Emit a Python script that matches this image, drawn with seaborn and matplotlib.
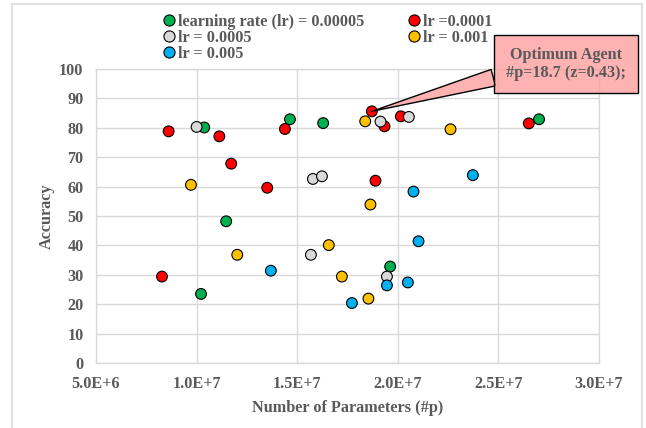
import matplotlib
matplotlib.use('Agg')
import matplotlib.pyplot as plt
from matplotlib.lines import Line2D
from matplotlib.patches import Rectangle
from matplotlib.ticker import FuncFormatter, MultipleLocator
import pandas as pd
import seaborn as sns

# values
green_p = [1.038e7, 1.147e7, 1.464e7, 1.629e7, 2.702e7, 1.022e7, 1.962e7]
green_acc = [80.1, 48.2, 82.9, 81.6, 82.9, 23.5, 32.8]

red_p = [8.61e6, 1.113e7, 1.172e7, 1.351e7, 1.439e7, 1.871e7, 1.934e7, 2.015e7, 2.651e7, 1.889e7, 8.28e6]
red_acc = [78.8, 77.1, 67.8, 59.6, 79.6, 85.6, 80.5, 83.9, 81.5, 62.0, 29.4]

grey_p = [1.0e7, 1.578e7, 1.623e7, 1.568e7, 1.914e7, 2.055e7, 1.946e7]
grey_acc = [80.3, 62.6, 63.5, 36.8, 82.1, 83.7, 29.4]

yellow_p = [9.72e6, 1.657e7, 1.202e7, 1.838e7, 2.262e7, 1.864e7, 1.722e7, 1.854e7]
yellow_acc = [60.6, 40.1, 36.8, 82.2, 79.5, 53.9, 29.4, 21.9]

blue_p = [2.373e7, 2.078e7, 2.103e7, 1.369e7, 1.772e7, 1.946e7, 2.05e7]
blue_acc = [63.9, 58.3, 41.4, 31.4, 20.4, 26.4, 27.4]

labels = ['learning rate (lr) = 0.00005', 'lr =0.0001', 'lr = 0.0005', 'lr = 0.001', 'lr = 0.005']
colors = ['#00b050', '#ff0000', '#d9d9d9', '#ffc000', '#00b0f0']

opt_p, opt_acc = 1.871e7, 85.6
opt_text = 'Optimum Agent\n#p=18.7 (z=0.43);'

series = [(green_p, green_acc), (red_p, red_acc), (grey_p, grey_acc),
          (yellow_p, yellow_acc), (blue_p, blue_acc)]
rows = []
for lab, (ps, accs) in zip(labels, series):
    for p, a in zip(ps, accs):
        rows.append({'params': p, 'acc': a, 'lr': lab})
df = pd.DataFrame(rows)

sns.set_style('white')
plt.rcParams['font.family'] = ['Liberation Serif', 'DejaVu Serif']
plt.rcParams['font.weight'] = 'bold'
txt = '#595959'
gridc = '#d9d9d9'
fs = 11.7

fig = plt.figure(figsize=(6.46, 4.28), dpi=100)
# chart area border (Excel style)
fig.patches.append(Rectangle((12 / 646, -0.02), 630 / 646, 1.02 - 4 / 428, transform=fig.transFigure,
                             fill=False, ec='#e0e0e0', lw=1.5))
ax = fig.add_axes([96 / 646, 1 - 363 / 428, 503 / 646, 294 / 428])

sns.scatterplot(data=df, x='params', y='acc', hue='lr', palette=dict(zip(labels, colors)),
                s=60, edgecolor='black', linewidth=0.8, legend=False, ax=ax, zorder=3)

ax.set_xlim(5e6, 3e7)
ax.set_ylim(0, 100)
ax.xaxis.set_major_locator(MultipleLocator(5e6))
ax.yaxis.set_major_locator(MultipleLocator(10))


def excel_sci(v, pos):
    s = f'{v:.1E}'
    m, e = s.split('E')
    return f'{m}E+{int(e)}'


ax.xaxis.set_major_formatter(FuncFormatter(excel_sci))
ax.grid(True, color=gridc, lw=1)
ax.set_axisbelow(True)
for sp in ax.spines.values():
    sp.set_color(gridc)
    sp.set_linewidth(1)
ax.tick_params(length=0, labelsize=fs, labelcolor=txt)
ax.tick_params(axis='x', pad=9)
ax.tick_params(axis='y', pad=9)
for t in ax.get_xticklabels() + ax.get_yticklabels():
    t.set_fontweight('bold')

ax.set_xlabel('Number of Parameters (#p)', fontsize=fs, color=txt, fontweight='bold')
ax.set_ylabel('Accuracy', fontsize=fs, color=txt, fontweight='bold')
ax.xaxis.set_label_coords(0.5, -0.125)
ax.yaxis.set_label_coords(-0.082, 0.5)

# legend in Excel row order (2 columns)
handles = [Line2D([], [], marker='o', ls='', markersize=8, markerfacecolor=c,
                  markeredgecolor='black', markeredgewidth=0.8) for c in colors]
order = [0, 2, 4, 1, 3]
leg = fig.legend([handles[i] for i in order], [labels[i] for i in order], ncol=2,
                 loc='upper left', bbox_to_anchor=(163 / 646, 1 - 13.5 / 428), frameon=False,
                 fontsize=fs, handlelength=0.7, handletextpad=0.2, labelspacing=0.02,
                 columnspacing=2.75, borderpad=0, borderaxespad=0)
for t in leg.get_texts():
    t.set_color(txt)
    t.set_fontweight('bold')

ax.annotate(opt_text, xy=(opt_p, opt_acc), xycoords='data',
            xytext=(566 / 646, 1 - 64 / 428), textcoords='figure fraction',
            ha='center', va='center', fontsize=fs, color=txt, fontweight='bold',
            linespacing=1.15, annotation_clip=False, zorder=5,
            bbox=dict(boxstyle='square,pad=0.75', fc=(1, 0.6, 0.6, 0.75), ec='black', lw=1),
            arrowprops=dict(arrowstyle='wedge,tail_width=1.05', fc=(1, 0.6, 0.6, 0.75),
                            ec='black', lw=1, relpos=(0, 0.2), shrinkA=0, shrinkB=0))

fig.savefig('out.png', dpi=100)
